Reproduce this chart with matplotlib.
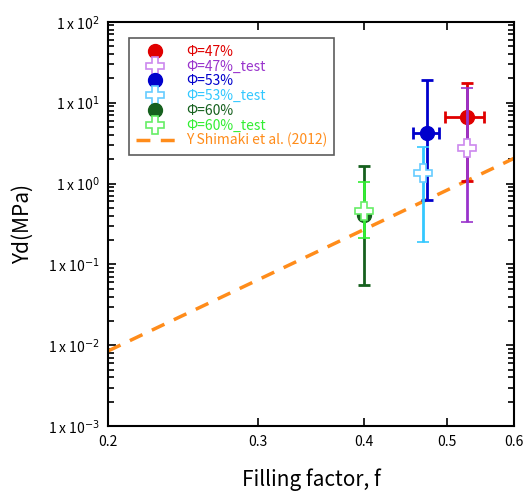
import matplotlib
matplotlib.use("Agg")
import matplotlib.pyplot as plt
from matplotlib.lines import Line2D
from matplotlib.ticker import FixedLocator, FixedFormatter, LogLocator, NullLocator

plt.rcParams['font.family'] = ['Noto Sans CJK JP', 'DejaVu Sans']

# data
labels = ['Φ=47%', 'Φ=47%_test', 'Φ=53%', 'Φ=53%_test', 'Φ=60%', 'Φ=60%_test']
f_vals = [0.528, 0.528, 0.474, 0.469, 0.400, 0.400]
yd_vals = [6.7, 2.75, 4.2, 1.35, 0.41, 0.46]
yd_lo = [1.08, 0.335, 0.63, 0.19, 0.056, 0.213]
yd_hi = [17.5, 15.0, 19.0, 2.85, 1.65, 1.05]
f_lo = [0.498, None, 0.457, None, None, None]
f_hi = [0.553, None, 0.490, None, None, None]
kinds = ['o', 'P', 'o', 'P', 'o', 'P']
colors = ['#e00000', '#9933cc', '#0000cc', '#33c8ff', '#16601e', '#33ee33']
edge_colors = ['#e00000', '#cc88ee', '#0000cc', '#66ccff', '#16601e', '#66ee66']

shimaki_f = [0.2, 0.6]
shimaki_y = [0.0085, 2.05]
shimaki_label = 'Y Shimaki et al. (2012)'
shimaki_color = '#ff8c1a'

fig = plt.figure(figsize=(5.24, 4.95), dpi=100)
ax = fig.add_axes([0.206, 0.139, 0.775, 0.817])
ax.set_xscale('log')
ax.set_yscale('log')

handles = []
for i in range(len(labels)):
    yerr = [[yd_vals[i] - yd_lo[i]], [yd_hi[i] - yd_vals[i]]]
    xerr = None
    if f_lo[i] is not None:
        xerr = [[f_vals[i] - f_lo[i]], [f_hi[i] - f_vals[i]]]
    if kinds[i] == 'o':
        ax.errorbar([f_vals[i]], [yd_vals[i]], yerr=yerr, xerr=xerr, fmt='o',
                    color=colors[i], ms=10, elinewidth=2, capsize=4, capthick=2,
                    zorder=3)
        handles.append(Line2D([], [], ls='none', marker='o', ms=10, color=colors[i],
                              label=labels[i]))
    else:
        ax.errorbar([f_vals[i]], [yd_vals[i]], yerr=yerr, xerr=xerr, fmt='P',
                    color=colors[i], mfc='white', mec=edge_colors[i], mew=1.2,
                    ms=13, elinewidth=2, capsize=4, capthick=2, zorder=4)
        handles.append(Line2D([], [], ls='none', marker='P', ms=13, mfc='white',
                              mec=edge_colors[i], mew=1.2, label=labels[i]))

line, = ax.plot(shimaki_f, shimaki_y, '--', color=shimaki_color, lw=2.5, dashes=(4, 3),
                label=shimaki_label, zorder=2)
handles.append(line)

ax.set_xlim(0.2, 0.6)
ax.set_ylim(1e-3, 1e2)

xt = [0.2, 0.3, 0.4, 0.5, 0.6]
ax.xaxis.set_major_locator(FixedLocator(xt))
ax.xaxis.set_major_formatter(FixedFormatter(['0.2', '0.3', '0.4', '0.5', '0.6']))
ax.xaxis.set_minor_locator(NullLocator())

yt = [1e-3, 1e-2, 1e-1, 1e0, 1e1, 1e2]
ax.yaxis.set_major_locator(FixedLocator(yt))
ax.yaxis.set_major_formatter(FixedFormatter([r'1 x 10$^{%d}$' % e for e in range(-3, 3)]))
ax.yaxis.set_minor_locator(LogLocator(base=10, subs=range(2, 10)))

ax.tick_params(which='both', direction='in', top=True, right=True, labelsize=10, width=1.2)
ax.tick_params(which='major', length=6, pad=6)
ax.tick_params(which='minor', length=4)
for s in ax.spines.values():
    s.set_linewidth(1.5)

ax.set_xlabel('Filling factor, f', fontsize=15, labelpad=14)
ax.set_ylabel('Yd(MPa)', fontsize=15, labelpad=10)

leg = ax.legend(handles=handles, loc='upper left', bbox_to_anchor=(0.052, 0.96),
                borderaxespad=0, fontsize=10,
                frameon=True, fancybox=False, edgecolor='#333333',
                handlelength=2.8, labelspacing=0.05, borderpad=0.5, handletextpad=0.8)
leg.get_frame().set_linewidth(1.2)
for txt, c in zip(leg.get_texts(), colors + [shimaki_color]):
    txt.set_color(c)

fig.savefig('out.png', dpi=100)
